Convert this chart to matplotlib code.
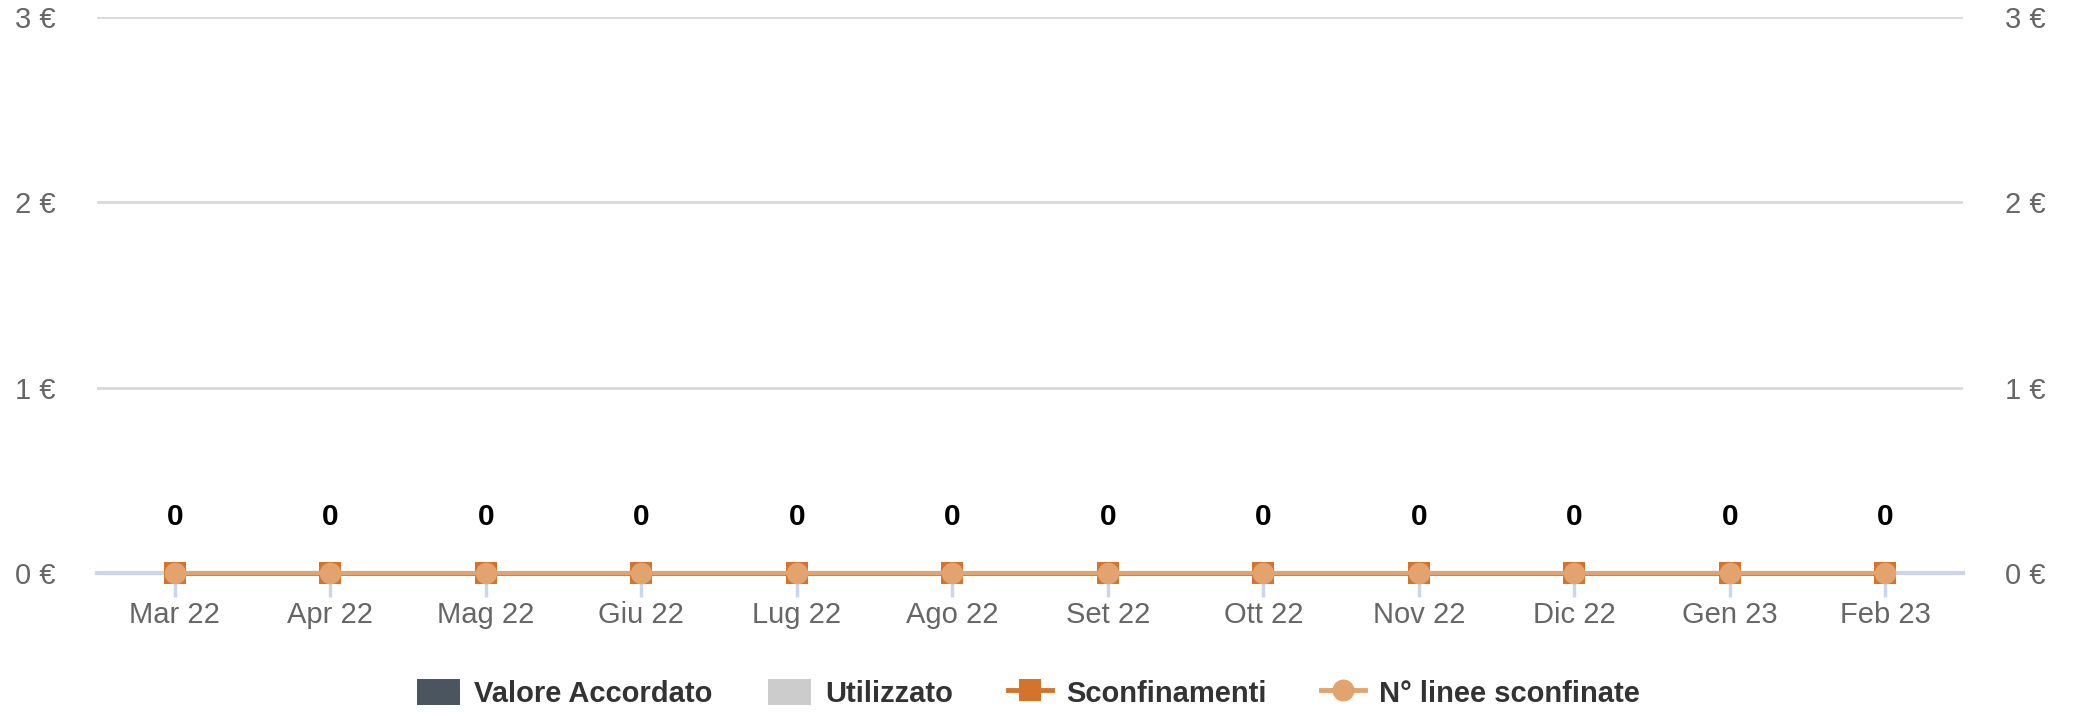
import numpy as np
import matplotlib
matplotlib.use("Agg")
import matplotlib.pyplot as plt
from matplotlib.patches import Patch
from matplotlib.lines import Line2D

plt.rcParams["font.family"] = ["Liberation Sans", "DejaVu Sans"]

months = ["Mar 22", "Apr 22", "Mag 22", "Giu 22", "Lug 22", "Ago 22",
          "Set 22", "Ott 22", "Nov 22", "Dic 22", "Gen 23", "Feb 23"]
valore_accordato = [0, 0, 0, 0, 0, 0, 0, 0, 0, 0, 0, 0]
utilizzato = [0, 0, 0, 0, 0, 0, 0, 0, 0, 0, 0, 0]
sconfinamenti = [0, 0, 0, 0, 0, 0, 0, 0, 0, 0, 0, 0]
linee_sconfinate = [0, 0, 0, 0, 0, 0, 0, 0, 0, 0, 0, 0]
y_ticks = [0, 1, 2, 3]

C_DARK = "#4a5560"
C_GREY = "#cccccc"
C_ORANGE = "#d4742c"
C_LIGHT = "#e3a36f"
C_AXIS = "#ccd6eb"
C_GRID = "#d9d9d9"
C_TEXT = "#666666"

fig = plt.figure(figsize=(20.74, 7.12), dpi=100)
ax = fig.add_axes([0.0468, 0.1952, 0.8997, 0.7808])

x = np.arange(len(months))
ax.bar(x - 0.15, valore_accordato, width=0.3, color=C_DARK)
ax.bar(x + 0.15, utilizzato, width=0.3, color=C_GREY)
ax.plot(x, sconfinamenti, color=C_ORANGE, linewidth=3.5, marker="s",
        markersize=16.5, markerfacecolor=C_ORANGE, markeredgewidth=0,
        zorder=4, clip_on=False)
ax.plot(x, linee_sconfinate, color=C_LIGHT, linewidth=3, marker="o",
        markersize=15.5, markerfacecolor=C_LIGHT, markeredgewidth=0,
        zorder=5, clip_on=False)

# data labels above the "N° linee" points
for xi, v in zip(x, linee_sconfinate):
    ax.annotate(f"{v}", (xi, v), xytext=(0, 40), textcoords="offset points",
                ha="center", va="center", fontsize=21.5, fontweight="bold",
                color="black")

ax.set_xlim(-0.5, len(months) - 0.5)
ax.set_ylim(0, 3)
ax.set_xticks(x)
ax.set_xticklabels(months)
ax.set_yticks(y_ticks)
ax.set_yticklabels([f"{t} €" for t in y_ticks])
ax.tick_params(axis="x", colors=C_AXIS, length=17, width=2.5, labelsize=21,
               labelcolor=C_TEXT, pad=3)
ax.tick_params(axis="y", length=0, labelsize=21, labelcolor=C_TEXT, pad=30,
               labelright=True)

ax.grid(axis="y", color=C_GRID, linewidth=2)
ax.set_axisbelow(True)
for s in ["top", "right", "left"]:
    ax.spines[s].set_visible(False)
ax.spines["bottom"].set_color(C_AXIS)
ax.spines["bottom"].set_linewidth(3)
ax.spines["bottom"].set_zorder(3)

handles = [
    Patch(facecolor=C_DARK, edgecolor="none", label="Valore Accordato"),
    Patch(facecolor=C_GREY, edgecolor="none", label="Utilizzato"),
    Line2D([0], [0], color=C_ORANGE, linewidth=3.5, marker="s", markersize=15.8,
           markeredgewidth=0, label="Sconfinamenti"),
    Line2D([0], [0], color=C_LIGHT, linewidth=3.5, marker="o", markersize=15.8,
           markeredgewidth=0, label="N° linee sconfinate"),
]
leg = fig.legend(handles=handles, loc="center", bbox_to_anchor=(0.4958, 0.026),
                 ncol=4, frameon=False, handlelength=1.5, handleheight=1.0,
                 handletextpad=0.48, columnspacing=1.88,
                 prop={"size": 21, "weight": "bold"})
for t in leg.get_texts():
    t.set_color("#333333")

fig.savefig("out.png", dpi=100)
